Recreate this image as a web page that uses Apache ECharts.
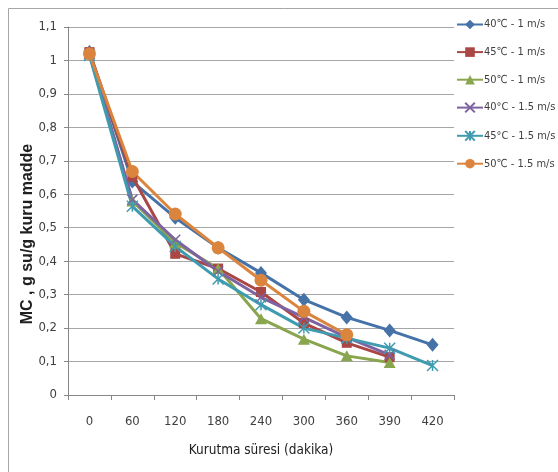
<!DOCTYPE html>
<html><head><meta charset="utf-8">
<script src="https://cdn.jsdelivr.net/npm/echarts@6/dist/echarts.min.js"></script>
<style>html,body{margin:0;padding:0;background:#fff}#c{width:558px;height:472px}</style>
</head><body><div id="c"></div>
<script>
const categories = ['0','60','120','180','240','300','360','390','420'];
const seriesNames = ['40℃ - 1 m/s','45℃ - 1 m/s','50℃ - 1 m/s','40°C - 1.5 m/s','45°C - 1.5 m/s','50℃ - 1.5 m/s'];
const s40_1   = [1.025, 0.638, 0.53, 0.44, 0.365, 0.285, 0.232, 0.193, 0.15];
const s45_1   = [1.025, 0.653, 0.422, 0.378, 0.308, 0.215, 0.156, 0.113];
const s50_1   = [1.02, 0.58, 0.455, 0.378, 0.228, 0.167, 0.117, 0.097];
const s40_15  = [1.02, 0.584, 0.464, 0.37, 0.292, 0.232, 0.172, 0.12];
const s45_15  = [1.015, 0.564, 0.444, 0.347, 0.27, 0.2, 0.17, 0.14, 0.088];
const s50_15  = [1.02, 0.668, 0.541, 0.44, 0.343, 0.25, 0.18];
const yTicks = [0,0.1,0.2,0.3,0.4,0.5,0.6,0.7,0.8,0.9,1,1.1];
const xTitle = 'Kurutma süresi (dakika)';
const yTitle = 'MC , g su/g kuru madde';

const colors = ['#4572A7','#AA4643','#89A54E','#7E62A1','#3F9BB0','#DB843D'];
const symbols = ['diamond','rect','triangle',
  'path://M0,0L10,10M10,0L0,10',
  'path://M0,0L10,10M10,0L0,10M5,0L5,10',
  'circle'];
const symSizes = [[12,14],10,[12,11],10,11,13];
const datas = [s40_1,s45_1,s50_1,s40_15,s45_15,s50_15];
const ff = "'Liberation Sans Narrow','DejaVu Sans Condensed','Liberation Sans',sans-serif";

const chart = echarts.init(document.getElementById('c'), null, {renderer:'canvas'});
chart.setOption({
  animation:false,
  color: colors,
  graphic:[
    {type:'rect', shape:{x:8.5,y:8.5,width:700,height:700}, style:{fill:'none', stroke:'#a6a6a6', lineWidth:1}},
    {type:'text', x:28, y:234, rotation:Math.PI/2,
     style:{text:yTitle, fill:'#202020', font:"bold 16px 'Liberation Sans',Arial,sans-serif", align:'center', verticalAlign:'middle'}}
  ],
  grid:{left:68, right:104, top:27, bottom:77},
  legend:{
    orient:'vertical', left:456, top:19, padding:0, itemGap:16.6, itemWidth:26, itemHeight:12,
    textStyle:{fontFamily:ff, fontSize:11, color:'#404040', padding:[0,0,0,-4]},
    data: seriesNames
  },
  xAxis:{
    type:'category', data:categories, boundaryGap:true,
    axisLine:{lineStyle:{color:'#868686', width:1}},
    axisTick:{show:true, length:5, lineStyle:{color:'#868686'}},
    axisLabel:{fontFamily:ff, fontSize:13, color:'#404040', margin:20},
    name:xTitle, nameLocation:'middle', nameGap:48,
    nameTextStyle:{fontFamily:ff, fontSize:13.5, color:'#202020'}
  },
  yAxis:{
    type:'value', min:0, max:1.1, interval:0.1,
    axisLine:{show:true, lineStyle:{color:'#868686'}},
    axisTick:{show:true, length:4, lineStyle:{color:'#868686'}},
    splitLine:{lineStyle:{color:'#a6a6a6', width:1}},
    axisLabel:{fontFamily:ff, fontSize:13, color:'#404040', margin:11,
      formatter:v=>{ const t = yTicks.find(x=>Math.abs(x-v)<1e-6); return (t===undefined?v:t).toString().replace('.',','); }}
  },
  series: datas.map((d,i)=>({
    name: seriesNames[i], type:'line', data:d,
    symbol: symbols[i], symbolSize: symSizes[i], showAllSymbol:true,
    lineStyle:{width:3, color:colors[i]},
    itemStyle:{color:colors[i], borderColor:colors[i], borderWidth:(i===3||i===4)?1.5:0},
    z: i===0?2:3
  }))
});
</script></body></html>
